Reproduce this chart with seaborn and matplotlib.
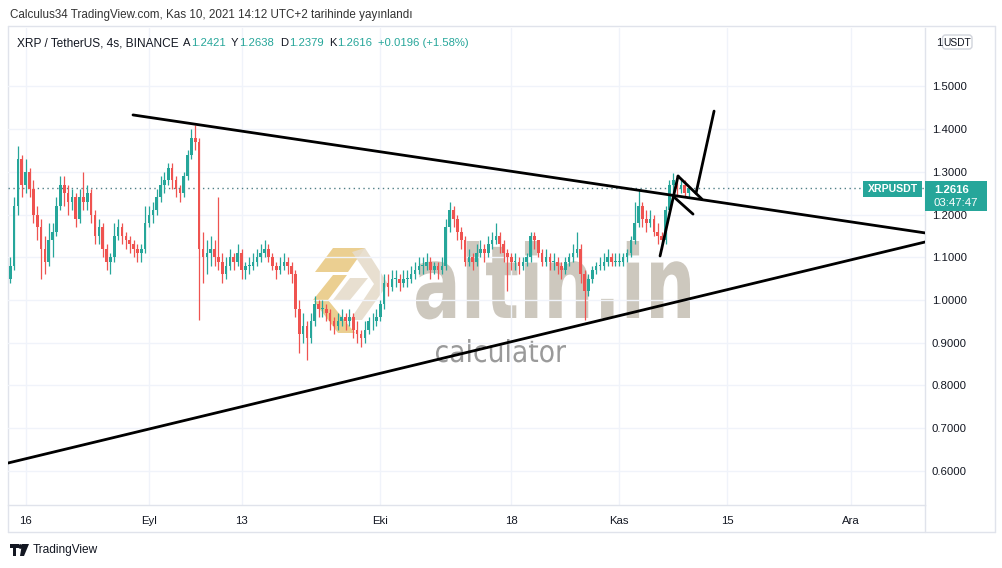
import numpy as np
import pandas as pd
import matplotlib
matplotlib.use("Agg")
import matplotlib.pyplot as plt
import matplotlib.dates as mdates
from matplotlib.patches import Rectangle, FancyBboxPatch, Polygon, PathPatch
from matplotlib.textpath import TextPath
from matplotlib.font_manager import FontProperties
from matplotlib.transforms import Affine2D
import seaborn as sns

# ---------------- data (12h candles) ----------------
candle_start = "2021-08-14 00:00"
candle_freq = "12h"
first_open = 1.05

close = [
    1.08, 1.22, 1.33, 1.27, 1.30, 1.26, 1.20, 1.17, 1.12, 1.09,
    1.14, 1.16, 1.22, 1.27, 1.25, 1.23, 1.24, 1.19, 1.24, 1.23,
    1.25, 1.20, 1.15, 1.17, 1.12, 1.09, 1.10, 1.15, 1.17, 1.15,
    1.14, 1.13, 1.12, 1.11, 1.12, 1.18, 1.20, 1.21, 1.24, 1.27,
    1.28, 1.31, 1.28, 1.26, 1.25, 1.29, 1.34, 1.38, 1.37, 1.12,
    1.10, 1.11, 1.12, 1.10, 1.09, 1.06, 1.08, 1.10, 1.09, 1.11,
    1.07, 1.08, 1.08, 1.09, 1.10, 1.11, 1.12, 1.10, 1.08, 1.07,
    1.08, 1.09, 1.08, 1.06, 0.98, 0.92, 0.94, 0.91, 0.95, 0.99,
    0.98, 0.98, 0.97, 0.95, 0.94, 0.95, 0.96, 0.95, 0.96, 0.93,
    0.92, 0.91, 0.93, 0.95, 0.95, 0.96, 0.99, 1.04, 1.03, 1.05,
    1.05, 1.04, 1.05, 1.05, 1.06, 1.07, 1.08, 1.08, 1.09, 1.07,
    1.08, 1.07, 1.08, 1.17, 1.21, 1.19, 1.16, 1.14, 1.09, 1.10,
    1.09, 1.11, 1.12, 1.11, 1.13, 1.14, 1.15, 1.13, 1.11, 1.10,
    1.09, 1.09, 1.08, 1.09, 1.10, 1.15, 1.14, 1.11, 1.09, 1.10,
    1.09, 1.09, 1.08, 1.07, 1.09, 1.10, 1.11, 1.12, 1.06, 1.02,
    1.05, 1.07, 1.08, 1.08, 1.09, 1.10, 1.09, 1.09, 1.09, 1.10,
    1.11, 1.14, 1.18, 1.22, 1.19, 1.18, 1.19, 1.16, 1.15, 1.14,
    1.21, 1.27, 1.28, 1.26, 1.27, 1.25, 1.2616]

high = [
    1.10, 1.24, 1.36, 1.34, 1.33, 1.31, 1.28, 1.22, 1.19, 1.15,
    1.18, 1.18, 1.24, 1.29, 1.29, 1.27, 1.26, 1.25, 1.26, 1.30,
    1.27, 1.26, 1.21, 1.19, 1.18, 1.13, 1.11, 1.18, 1.19, 1.18,
    1.16, 1.15, 1.14, 1.13, 1.13, 1.22, 1.22, 1.23, 1.26, 1.29,
    1.30, 1.32, 1.32, 1.29, 1.27, 1.30, 1.35, 1.40, 1.41, 1.38,
    1.16, 1.14, 1.15, 1.14, 1.24, 1.11, 1.10, 1.12, 1.11, 1.13,
    1.12, 1.09, 1.10, 1.11, 1.12, 1.13, 1.14, 1.13, 1.11, 1.09,
    1.10, 1.11, 1.10, 1.09, 1.07, 1.00, 0.97, 0.95, 0.97, 1.01,
    1.00, 1.00, 0.99, 0.98, 0.96, 0.97, 0.98, 0.97, 0.98, 0.97,
    0.95, 0.93, 0.95, 0.96, 0.97, 0.98, 1.00, 1.06, 1.06, 1.07,
    1.07, 1.06, 1.07, 1.07, 1.08, 1.09, 1.10, 1.10, 1.11, 1.10,
    1.09, 1.09, 1.10, 1.19, 1.23, 1.22, 1.20, 1.17, 1.15, 1.12,
    1.11, 1.13, 1.14, 1.13, 1.15, 1.16, 1.18, 1.16, 1.14, 1.12,
    1.11, 1.11, 1.10, 1.10, 1.11, 1.16, 1.16, 1.14, 1.12, 1.12,
    1.11, 1.11, 1.10, 1.09, 1.10, 1.11, 1.13, 1.16, 1.13, 1.07,
    1.06, 1.08, 1.09, 1.10, 1.11, 1.12, 1.11, 1.11, 1.11, 1.11,
    1.12, 1.15, 1.23, 1.257, 1.23, 1.21, 1.21, 1.20, 1.18, 1.16,
    1.22, 1.28, 1.297, 1.29, 1.28, 1.28, 1.2638]

low = [
    1.04, 1.07, 1.20, 1.24, 1.25, 1.24, 1.18, 1.14, 1.05, 1.06,
    1.08, 1.10, 1.15, 1.21, 1.22, 1.20, 1.21, 1.17, 1.18, 1.21,
    1.21, 1.18, 1.13, 1.13, 1.10, 1.07, 1.06, 1.09, 1.14, 1.13,
    1.12, 1.11, 1.10, 1.09, 1.09, 1.11, 1.17, 1.18, 1.20, 1.23,
    1.25, 1.27, 1.26, 1.24, 1.23, 1.24, 1.28, 1.33, 1.35, 0.953,
    1.04, 1.06, 1.08, 1.08, 1.07, 1.04, 1.05, 1.07, 1.07, 1.08,
    1.05, 1.05, 1.06, 1.07, 1.08, 1.09, 1.10, 1.09, 1.07, 1.05,
    1.06, 1.07, 1.06, 1.04, 0.96, 0.876, 0.90, 0.86, 0.90, 0.94,
    0.96, 0.96, 0.95, 0.93, 0.92, 0.93, 0.94, 0.93, 0.94, 0.91,
    0.90, 0.89, 0.90, 0.92, 0.93, 0.94, 0.95, 0.98, 1.01, 1.02,
    1.03, 1.02, 1.03, 1.03, 1.04, 1.05, 1.06, 1.06, 1.07, 1.05,
    1.06, 1.05, 1.06, 1.07, 1.16, 1.17, 1.14, 1.12, 1.08, 1.08,
    1.07, 1.08, 1.10, 1.09, 1.10, 1.12, 1.13, 1.11, 1.09, 1.02,
    1.07, 1.07, 1.06, 1.07, 1.08, 1.09, 1.12, 1.10, 1.08, 1.08,
    1.07, 1.07, 1.06, 1.05, 1.06, 1.08, 1.09, 1.10, 1.04, 0.953,
    1.01, 1.04, 1.06, 1.07, 1.07, 1.08, 1.08, 1.08, 1.08, 1.08,
    1.09, 1.10, 1.13, 1.17, 1.17, 1.16, 1.17, 1.15, 1.13, 1.12,
    1.13, 1.20, 1.25, 1.24, 1.25, 1.24, 1.2379]

last_price = 1.2616
header_title = "XRP / TetherUS, 4s, BINANCE"
header_letters = ["A", "Y", "D", "K"]
header_values = ["1.2421", "1.2638", "1.2379", "1.2616"]
header_change = "+0.0196 (+1.58%)"

tick_dates = ["2021-08-16", "2021-09-01", "2021-09-13", "2021-10-01",
              "2021-10-18", "2021-11-01", "2021-11-15", "2021-12-01"]
tick_labels = ["16", "Eyl", "13", "Eki", "18", "Kas", "15", "Ara"]
price_ticks = [0.6, 0.7, 0.8, 0.9, 1.0, 1.1, 1.2, 1.3, 1.4, 1.5]

# drawn lines: (segment id, time, price)
line_seg = ["up", "up", "low", "low", "z1", "z1", "z2", "z2", "z3", "z3", "z4", "z4"]
line_time = ["2021-08-29 22:10", "2021-12-10 15:50",
             "2021-08-13 17:00", "2021-12-10 15:50",
             "2021-11-06 07:00", "2021-11-08 15:00",
             "2021-11-08 15:00", "2021-11-11 17:30",
             "2021-11-07 23:15", "2021-11-10 13:40",
             "2021-11-10 23:00", "2021-11-13 07:10"]
line_price = [1.433, 1.157,
              0.6186, 1.1357,
              1.103, 1.290,
              1.290, 1.236,
              1.243, 1.201,
              1.250, 1.442]

# ---------------- style ----------------
sns.set_theme(style="white")
plt.rcParams["font.family"] = ["Liberation Sans", "DejaVu Sans"]
UP = "#26a69a"
DOWN = "#ef5350"
TXT = "#131722"
GRID = "#f0f3fa"
BORDER = "#e0e3eb"

W, H = 1002, 568
fig = plt.figure(figsize=(W / 100, H / 100), dpi=100, facecolor="white")

back = fig.add_axes([0, 0, 1, 1], zorder=0)
back.set_xlim(0, W); back.set_ylim(H, 0); back.axis("off")

L, R, T, B = 8, 925, 28, 505
ax = fig.add_axes([L / W, (H - B) / H, (R - L) / W, (B - T) / H], zorder=1)
ax.set_facecolor("none")

front = fig.add_axes([0, 0, 1, 1], zorder=2)
front.set_xlim(0, W); front.set_ylim(H, 0); front.axis("off")
front.patch.set_alpha(0)

# ---------------- candles ----------------
times = pd.date_range(candle_start, periods=len(close), freq=candle_freq)
xs = mdates.date2num(times.to_pydatetime())
opens = [first_open] + close[:-1]
df = pd.DataFrame({"x": xs, "open": opens, "close": close, "high": high, "low": low})
df["high"] = df[["high", "open", "close"]].max(axis=1)
df["low"] = df[["low", "open", "close"]].min(axis=1)
df["up"] = df["close"] >= df["open"]
colors = np.where(df["up"], UP, DOWN)

ax.vlines(df["x"], df["low"], df["high"], colors=colors, lw=0.9, zorder=3)
body_h = (df["close"] - df["open"]).abs().clip(lower=0.002)
body_b = df[["open", "close"]].min(axis=1)
ax.bar(df["x"], body_h, bottom=body_b, width=0.34, color=colors, lw=0, zorder=3)

# ---------------- drawn lines ----------------
lines = pd.DataFrame({"seg": line_seg,
                      "x": mdates.date2num(pd.to_datetime(line_time).to_pydatetime()),
                      "y": line_price})
sns.lineplot(data=lines, x="x", y="y", units="seg", estimator=None, sort=False,
             color="black", lw=2.0, ax=ax, legend=False, zorder=5)

ax.axhline(last_price, color="#4f7f86", lw=1.0, ls=(0, (1, 2.5)), zorder=2)

# ---------------- axes ----------------
sep1 = mdates.date2num(pd.Timestamp("2021-09-01").to_pydatetime())
ax.set_xlim(sep1 - 18.29, sep1 + 100.66)
ax.set_ylim(0.5204, 1.6364)
ax.set_xlabel(""); ax.set_ylabel("")

ax.set_xticks(mdates.date2num(pd.to_datetime(tick_dates).to_pydatetime()))
ax.set_xticklabels(tick_labels)
ax.set_yticks(price_ticks)
ax.set_yticklabels([f"{v:.4f}" for v in price_ticks])
ax.yaxis.tick_right()
ax.tick_params(axis="y", length=0, pad=5, labelsize=8.2, labelcolor=TXT)
ax.tick_params(axis="x", length=0, pad=8, labelsize=8.2, labelcolor=TXT)
ax.grid(True, color=GRID, lw=1.0, zorder=0)
ax.set_axisbelow(True)
for s in ax.spines.values():
    s.set_color(BORDER); s.set_linewidth(1.0)
ax.spines["left"].set_visible(False)
ax.spines["top"].set_visible(False)

back.plot([L, 995], [532, 532], color=BORDER, lw=1.0)
back.plot([995, 995], [26, 532], color=BORDER, lw=1.0)
back.plot([L, L], [26, 532], color=BORDER, lw=1.0)
back.plot([L, 995], [26, 26], color=BORDER, lw=1.0)
back.plot([R, R], [505, 532], color=BORDER, lw=1.0)

# ---------------- watermark ----------------
def fit_text(axh, s, x0, x1, ytop, ybase, color, weight="bold", alpha=1.0, z=1):
    tp = TextPath((0, 0), s, size=100, prop=FontProperties(family="DejaVu Sans", weight=weight))
    bb = tp.get_extents()
    sx = (x1 - x0) / bb.width
    sy = (ybase - ytop) / bb.y1
    tr = Affine2D().translate(-bb.x0, 0).scale(sx, -sy).translate(x0, ybase)
    axh.add_patch(PathPatch(tr.transform_path(tp), color=color, lw=0, alpha=alpha, zorder=z))

fit_text(back, "altin.in", 416, 690, 241, 318, "#cbc5bb", alpha=0.95)
fit_text(back, "calculator", 436, 566, 339, 362, "#8f8f8f", weight="normal", alpha=0.9)

gold = "#e8c77e"
beige = "#e6dccb"
back.add_patch(Polygon([(315, 272), (333, 248), (365, 248), (348, 272)], color=gold, alpha=0.85, lw=0))
back.add_patch(Polygon([(313, 300), (333, 275), (347, 275), (328, 300), (355, 333), (338, 333)],
                       color=gold, alpha=0.85, lw=0))
back.add_patch(Polygon([(365, 248), (388, 284), (362, 320), (350, 320), (374, 284), (352, 252)],
                       color=beige, alpha=0.9, lw=0))
back.add_patch(Polygon([(333, 300), (350, 278), (368, 278), (350, 300)], color=beige, alpha=0.9, lw=0))

# ---------------- texts ----------------
front.text(10, 15, "Calculus34 TradingView.com, Kas 10, 2021 14:12 UTC+2 tarihinde yayınlandı",
           fontsize=8.4, color="#333333", va="center", ha="left")

# header line, laid out piece by piece
fig.canvas.draw()
renderer = fig.canvas.get_renderer()
inv = front.transData.inverted()

def put(x, s, color, gap, fs):
    t = front.text(x, 43, s, fontsize=fs, color=color, va="center", ha="left")
    bb = t.get_window_extent(renderer)
    return inv.transform((bb.x1, bb.y0))[0] + gap

x = put(17, header_title, TXT, 4, 8.6)
for lab, val in zip(header_letters, header_values):
    x = put(x, lab, TXT, 0.8, 8.1)
    x = put(x, val, UP, 5.5, 8.1)
put(x, header_change, UP, 0, 8.1)

# partially hidden top price label + USDT box
front.text(936, 43, "1", fontsize=8.2, color=TXT, ha="left", va="center")
front.add_patch(FancyBboxPatch((942.5, 35), 29.5, 14, boxstyle="round,pad=0,rounding_size=3",
                               fc="white", ec="#d1d4dc", lw=1.0))
front.text(957.3, 42.5, "USDT", fontsize=7.4, color=TXT, ha="center", va="center")

# last price labels
front.add_patch(Rectangle((863, 181), 59, 16, fc=UP, ec="none"))
front.text(892.5, 189, "XRPUSDT", fontsize=7.6, color="white", weight="bold", ha="center", va="center")
front.add_patch(Rectangle((925, 181), 62, 30, fc=UP, ec="none"))
front.text(934, 190, f"{last_price:.4f}", fontsize=8.2, color="white", weight="bold", ha="left", va="center")
front.text(934, 203, "03:47:47", fontsize=8.2, color="white", ha="left", va="center")

# TradingView logo
front.add_patch(Polygon([(10, 544), (19, 544), (19, 548), (16, 548), (16, 556), (13, 556), (13, 548), (10, 548)],
                        color=TXT, lw=0))
front.add_patch(Polygon([(22, 544), (29, 544), (24, 556), (20, 556)], color=TXT, lw=0))
front.add_patch(plt.Circle((20.5, 546.5), 1.6, color=TXT))
front.text(33, 550, "TradingView", fontsize=8.6, color=TXT, va="center", ha="left")

fig.savefig("out.png", dpi=100, facecolor="white")
